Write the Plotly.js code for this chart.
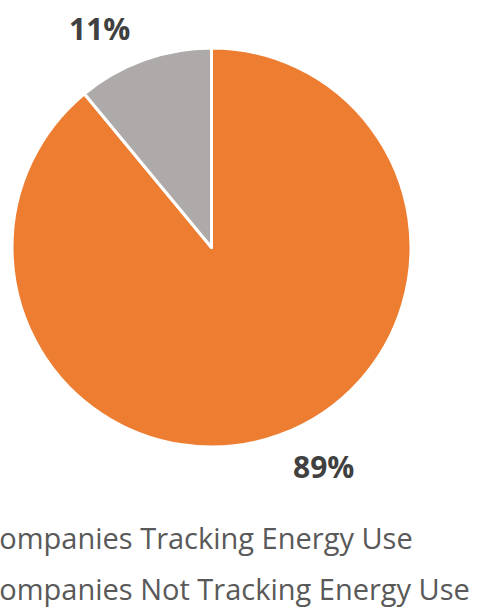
<!DOCTYPE html>
<html>
<head>
<meta charset="utf-8">
<script src="https://cdn.plot.ly/plotly-3.0.1.min.js"></script>
<style>html,body{margin:0;padding:0;background:#fff;overflow:hidden}#chart{width:490px;height:614px}</style>
</head>
<body>
<div id="chart"></div>
<script>
const labels = ["Companies Tracking Energy Use", "Companies Not Tracking Energy Use"];
const values = [89, 11];
const colors = ["#ED7D31", "#ADAAA9"];

const W = 490, H = 614;
const dom = {x: [12/W, 411/W], y: [1 - 448/H, 1 - 47/H]};

const trace = {
  type: "pie",
  labels: labels,
  values: values,
  sort: false,
  direction: "clockwise",
  rotation: 0,
  marker: {colors: colors, line: {color: "#ffffff", width: 3}},
  textinfo: "none",
  domain: dom,
  showlegend: false,
  hoverinfo: "label+percent"
};

// percentage labels placed just outside each slice's mid-angle (derived from values)
const total = values.reduce((a, b) => a + b, 0);
const cx = (dom.x[0] + dom.x[1]) / 2, cy = (dom.y[0] + dom.y[1]) / 2;
const R = Math.min((dom.x[1] - dom.x[0]) * W, (dom.y[1] - dom.y[0]) * H) / 2;
let cum = 0;
const pctAnn = values.map(v => {
  const mid = (cum + v / 2) / total * 2 * Math.PI;
  cum += v;
  const s = Math.sin(mid), c = Math.cos(mid);
  return {
    text: Math.round(100 * v / total) + "%",
    xref: "paper", yref: "paper",
    x: cx + R * s / W, y: cy + R * c / H,
    xanchor: s < 0 ? "right" : "left",
    yanchor: c > 0 ? "bottom" : "top",
    xshift: (s < 0 ? -1 : 1) * 12,
    yshift: (c > 0 ? 1 : -1) * 9,
    showarrow: false,
    font: {family: "Open Sans", size: 30, color: "#404040", weight: "bold"}
  };
});

const legendAnn = labels.map((t, i) => ({
  text: t,
  xref: "paper", yref: "paper",
  x: -21/W, y: 1 - (537 + i*51)/H,
  xanchor: "left", yanchor: "middle",
  showarrow: false,
  font: {family: "Open Sans", size: 29, color: "#595959"}
}));

const layout = {
  width: W, height: H,
  margin: {l: 0, r: 0, t: 0, b: 0},
  paper_bgcolor: "#ffffff",
  plot_bgcolor: "#ffffff",
  annotations: pctAnn.concat(legendAnn)
};

Plotly.newPlot("chart", [trace], layout, {displayModeBar: false, staticPlot: true});
</script>
</body>
</html>
